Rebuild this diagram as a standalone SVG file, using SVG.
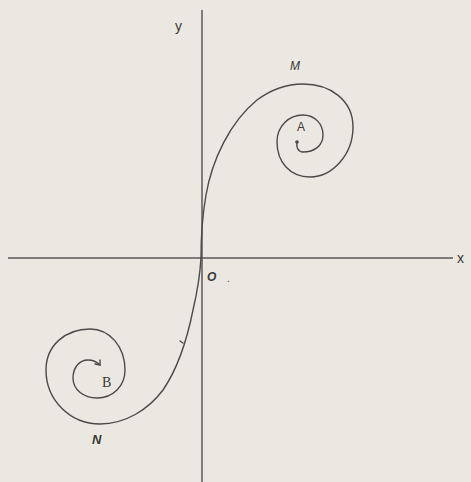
<svg xmlns="http://www.w3.org/2000/svg" width="471" height="482" viewBox="0 0 471 482">
<style>
.ln{fill:none;stroke:#4a4a48;stroke-width:1.4;stroke-linecap:round;stroke-linejoin:round}
.ax{fill:none;stroke:#5a5a58;stroke-width:1.5}
.t{font-family:"Liberation Sans",Arial,sans-serif;fill:#3a3a38}
.ti{font-family:"Liberation Sans",Arial,sans-serif;font-style:italic;fill:#3a3a38}
.ts{font-family:"Liberation Serif","Times New Roman",serif;fill:#3a3a38}
</style>
<rect x="0" y="0" width="471" height="482" fill="#ebe8e1"/>
<g id="axes">
<line class="ax" x1="8" y1="258" x2="453" y2="258"/>
<line class="ax" x1="202" y1="10" x2="202" y2="482"/>
</g>
<g id="connectors">
<path id="upper-spiral" class="ln" d="M201,258 C201,235 203,212 206,195 C212,160 230,122 257,100 C272,89 288,84 303,84 C330,84 353,100 353,127 C353,155 332,177 310,177 C290,177 277,162 277,142 C277,126 289,115 303,115 C315,115 323,124 323,135 C323,146 314,152 303,152 C298,152 296,147 297,142"/>
<circle cx="297" cy="142" r="1.8" fill="#4a4a48"/>
<path id="lower-spiral" class="ln" d="M201,258 C200,275 197,293 193,310 C187,340 178,368 163,390 C148,410 125,424 100,424 C70,424 46,400 46,370 C46,345 66,329 90,329 C110,329 125,347 125,370 C125,386 113,398 97,398 C84,398 73,390 73,378 C73,368 79,360 88,360 C93,360 97,362 100,365"/>
<path class="ln" d="M95,364 L100,365 L100,360"/>
<path class="ln" d="M180,341 L183,343"/>
</g>
<g id="labels">
<text class="t" x="175" y="31" font-size="14">y</text>
<text class="t" x="457" y="263" font-size="14">x</text>
<text class="ti" x="207" y="281" font-size="12" font-weight="bold">O</text>
<text class="t" x="227" y="282" font-size="10">.</text>
<text class="ti" x="290" y="70" font-size="12">M</text>
<text class="t" x="297" y="131" font-size="12">A</text>
<text class="ts" x="102" y="387" font-size="14">B</text>
<text class="ti" x="92" y="444" font-size="13" font-weight="bold">N</text>
</g>
</svg>
